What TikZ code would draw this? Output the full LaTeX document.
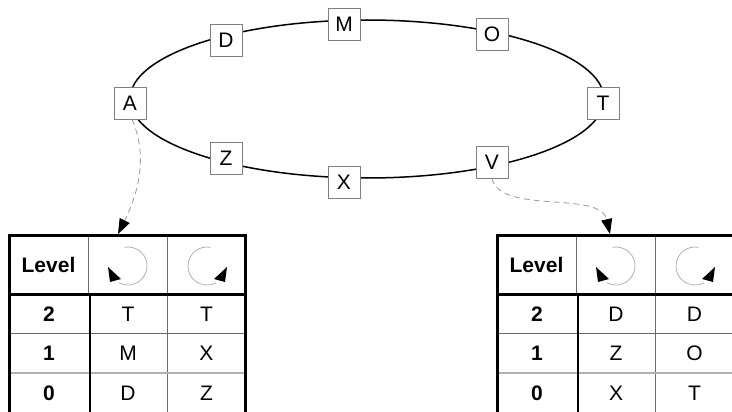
\documentclass[tikz,border=0pt]{standalone}
\usepackage{fontspec}
\setmainfont{Liberation Sans}
\usetikzlibrary{arrows.meta}
\definecolor{boxgray}{HTML}{808080}
\definecolor{linkgray}{HTML}{9A9A9A}
\definecolor{thingray}{HTML}{6A6A6A}
\definecolor{lightrow}{HTML}{B0B0B0}
\definecolor{icongray}{HTML}{A8A8A8}
\begin{document}
\begin{tikzpicture}[x=1pt,y=-1pt,
  vbox/.style={draw=boxgray, fill=white, line width=0.9pt, minimum width=32pt, minimum height=32pt, inner sep=0pt, font=\fontsize{21}{25}\selectfont},
  ring/.style={line width=1.5pt, black},
  thickline/.style={line width=2.8pt, black},
  thinline/.style={line width=0.9pt, thingray},
  lightline/.style={line width=1.2pt, lightrow},
  cell/.style={inner sep=0pt, font=\fontsize{21}{25}\selectfont},
  bcell/.style={inner sep=0pt, font=\fontsize{21}{25}\selectfont\bfseries},
  icon/.style={line width=0.7pt, icongray},
  link/.style={draw=linkgray, dash pattern=on 6pt off 4pt, line width=0.8pt, -{Triangle[length=15pt,width=11pt,color=black]}}
]
\useasboundingbox (0,0) rectangle (732,412);
\clip (0,0) rectangle (732,412);
% ring
\draw[ring] (367,99) ellipse [x radius=237, y radius=79];
\node[vbox] (A) at (130,103) {A};
\node[vbox] (D) at (226,40) {D};
\node[vbox] (M) at (344,24) {M};
\node[vbox] (O) at (492,34) {O};
\node[vbox] (T) at (603,103) {T};
\node[vbox] (V) at (492,162) {V};
\node[vbox] (X) at (344,182) {X};
\node[vbox] (Z) at (226,158) {Z};
% tables
\foreach \ox/\p/\a/\b/\c/\d/\e/\f in {0/L/T/T/M/X/D/Z, 488/R/D/D/Z/O/X/T} {
  \begin{scope}[xshift=\ox pt]
    \draw[thinline] (88,235) -- (88,294);
    \draw[thinline] (167,235) -- (167,414);
    \draw[thinline] (9,333) -- (246,333);
    \draw[lightline] (9,373) -- (246,373);
    \draw[thickline] (9.4,414) -- (9.4,235.5) -- (245.5,235.5) -- (245.5,414);
    \draw[thickline] (9.4,294.5) -- (245.5,294.5);
    \draw[thickline] (90,294.5) -- (90,414);
    % icons
    \draw[icon] (128,266) ++(-100:19) arc[start angle=-100, end angle=118, radius=19];
    \fill[black] (108,267) -- (110,282) -- (121,279) -- cycle;
    \draw[icon] (207,266) ++(-80:19) arc[start angle=-80, end angle=-298, radius=19];
    \fill[black] (227,267) -- (225,282) -- (214,279) -- cycle;
    % texts
    \node[bcell] (\p lev) at (48.5,264.5) {Level};
    \node[bcell] (\p n2) at (49,314) {2};
    \node[bcell] (\p n1) at (49,353) {1};
    \node[bcell] (\p n0) at (49,393) {0};
    \node[cell] (\p a2) at (128,314) {\a};
    \node[cell] (\p b2) at (206.5,314) {\b};
    \node[cell] (\p a1) at (128,353) {\c};
    \node[cell] (\p b1) at (206.5,353) {\d};
    \node[cell] (\p a0) at (128,393) {\e};
    \node[cell] (\p b0) at (206.5,393) {\f};
  \end{scope}
}
\coordinate (ltop) at (118,234);
\coordinate (rtop) at (610,234);
\draw[link] ([xshift=2pt]A.south) .. controls (150,160) and (135,200) .. (ltop);
\draw[link] (V.south) .. controls (500,215) and (600,190) .. (rtop);
\end{tikzpicture}
\end{document}
